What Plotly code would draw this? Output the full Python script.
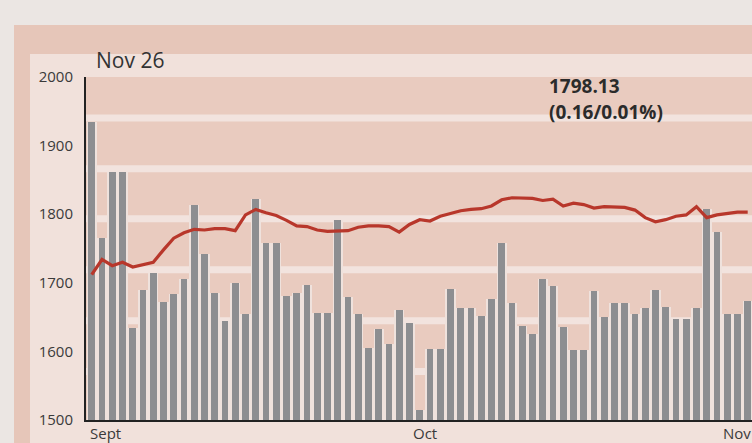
import plotly.graph_objects as go

# ---- data ----
day_index = list(range(1, 66))
volume_bars = [1935, 1765, 1861, 1861, 1634, 1689, 1715, 1672, 1683, 1706,
               1813, 1742, 1685, 1644, 1699, 1654, 1822, 1758, 1758, 1681,
               1685, 1697, 1656, 1656, 1791, 1680, 1655, 1605, 1632, 1611,
               1660, 1641, 1514, 1604, 1604, 1691, 1664, 1664, 1652, 1677,
               1758, 1670, 1637, 1625, 1705, 1695, 1635, 1602, 1602, 1688,
               1650, 1670, 1670, 1655, 1664, 1689, 1665, 1647, 1647, 1663,
               1807, 1774, 1655, 1655, 1674]
index_line = [1712, 1734, 1725, 1730, 1723, 1727, 1730, 1748, 1765, 1773,
              1778, 1777, 1779, 1779, 1776, 1799, 1807, 1802, 1798, 1791,
              1783, 1782, 1777, 1775, 1775, 1776, 1781, 1783, 1783, 1782,
              1774, 1785, 1792, 1790, 1797, 1801, 1805, 1807, 1808, 1812,
              1821, 1824, 1824, 1823, 1820, 1822, 1812, 1816, 1814, 1809,
              1811, 1811, 1810, 1806, 1795, 1789, 1792, 1797, 1799, 1811,
              1795, 1799, 1801, 1803, 1803]
month_tick_pos = [2.3, 33.5, 64.0]
month_tick_text = ["Sept", "Oct", "Nov"]
y_tick_vals = [1500, 1600, 1700, 1800, 1900, 2000]
title_text = "Nov 26"
last_value_text = "1798.13"
change_text = "(0.16/0.01%)"

# ---- figure ----
W, H = 752, 443
ML, MT, MB = 86, 77, 22.5
PH = H - MT - MB
PW = W - ML

def px_x(p):
    return (p - ML) / PW

def px_y(p):
    return (H - MB - p) / PH

fig = go.Figure()

# light halo bars behind (gap colour)
fig.add_trace(go.Bar(x=day_index, y=volume_bars, width=1.0,
                     marker=dict(color="#efe2dd", line=dict(width=0)),
                     hoverinfo="skip", showlegend=False))
# gray bars
fig.add_trace(go.Bar(x=day_index, y=volume_bars, width=0.66,
                     marker=dict(color="#8d8e91", line=dict(width=0)),
                     showlegend=False))
# red index line
fig.add_trace(go.Scatter(x=day_index, y=index_line, mode="lines",
                         line=dict(color="#b8372b", width=3.2),
                         showlegend=False))

shapes = []
# outer salmon frame
shapes.append(dict(type="rect", xref="paper", yref="paper", layer="below",
                   x0=px_x(14), x1=px_x(760), y0=px_y(25), y1=px_y(450),
                   fillcolor="#e6c6b9", line=dict(width=0)))
# inner light panel
shapes.append(dict(type="rect", xref="paper", yref="paper", layer="below",
                   x0=px_x(30), x1=px_x(760), y0=px_y(54), y1=px_y(450),
                   fillcolor="#f1e1db", line=dict(width=0)))
# plot band area
shapes.append(dict(type="rect", xref="paper", yref="paper", layer="below",
                   x0=0, x1=1, y0=0, y1=1,
                   fillcolor="#e9cbbf", line=dict(width=0)))
# light printed stripes
for cy in [118, 169, 219, 270, 321, 372]:
    shapes.append(dict(type="rect", xref="paper", yref="paper", layer="below",
                       x0=0, x1=1, y0=px_y(cy + 3.5), y1=px_y(cy - 3.5),
                       fillcolor="#f2e3de", line=dict(width=0)))

annotations = [
    dict(text=title_text, xref="paper", yref="paper", x=px_x(94), y=px_y(60),
         xanchor="left", yanchor="middle", showarrow=False,
         font=dict(family="Open Sans", size=21, color="#333333")),
    dict(text=f"<b>{last_value_text}</b>", xref="paper", yref="paper",
         x=px_x(547), y=px_y(86), xanchor="left", yanchor="middle",
         showarrow=False, font=dict(family="Open Sans", size=19, color="#2b2b2b")),
    dict(text=f"<b>{change_text}</b>", xref="paper", yref="paper",
         x=px_x(547), y=px_y(112), xanchor="left", yanchor="middle",
         showarrow=False, font=dict(family="Open Sans", size=19, color="#2b2b2b")),
]
for pos, txt in zip(month_tick_pos, month_tick_text):
    annotations.append(dict(text=txt, xref="x", yref="paper", x=pos, y=0,
                            xanchor="center", yanchor="top", yshift=-1,
                            showarrow=False,
                            font=dict(family="Open Sans", size=15, color="#3a3a3a")))

fig.update_layout(
    width=W, height=H,
    margin=dict(l=ML, r=0, t=MT, b=MB, pad=0),
    paper_bgcolor="#ebe6e3",
    plot_bgcolor="rgba(0,0,0,0)",
    barmode="overlay",
    bargap=0,
    shapes=shapes,
    annotations=annotations,
    xaxis=dict(range=[0.44, 65.42], showgrid=False, zeroline=False,
               showticklabels=False, ticks="",
               showline=True, linecolor="#222222", linewidth=2),
    yaxis=dict(range=[1500, 2000], showgrid=False, zeroline=False,
               tickmode="array", tickvals=y_tick_vals,
               ticks="", showline=True, linecolor="#222222", linewidth=2,
               tickfont=dict(family="Open Sans", size=15, color="#3a3a3a"),
               ticklabelstandoff=8),
)

fig.write_html("out.html", config={"displayModeBar": False},
               post_script="document.body.style.margin='0';document.body.style.overflow='hidden';")
